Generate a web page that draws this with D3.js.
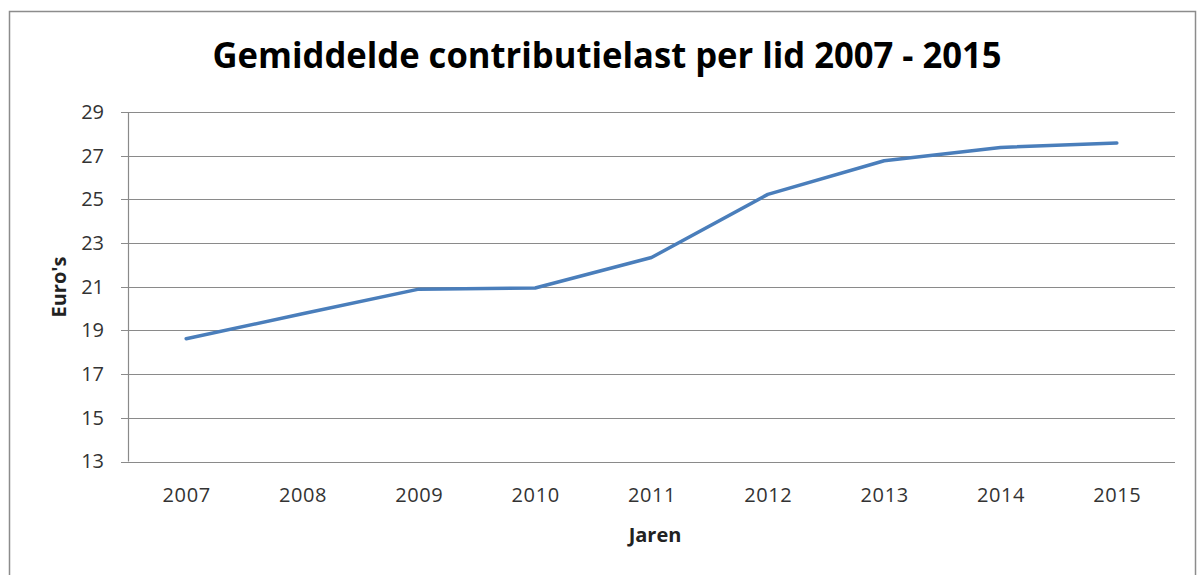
<!DOCTYPE html>
<html>
<head>
<meta charset="utf-8">
<script src="https://cdn.jsdelivr.net/npm/d3@7"></script>
<style>
  body { margin: 0; background: #fff; }
  text { font-family: "Open Sans", "DejaVu Sans", sans-serif; }
</style>
</head>
<body>
<svg id="chart"></svg>
<script>
var years = ["2007", "2008", "2009", "2010", "2011", "2012", "2013", "2014", "2015"];
var amounts = [18.62, 19.76, 20.89, 20.94, 22.34, 25.23, 26.77, 27.38, 27.58];
var yTicks = [13, 15, 17, 19, 21, 23, 25, 27, 29];

var viewWidth = 1197, viewHeight = 575;
var margin = { top: 112, right: 22, bottom: 113, left: 128 };
var width = viewWidth - margin.left - margin.right;
var height = viewHeight - margin.top - margin.bottom - 0.5;

var svg = d3.select("#chart")
    .attr("width", viewWidth)
    .attr("height", viewHeight);

// outer frame
svg.append("rect")
    .attr("x", 9.5).attr("y", 11.5)
    .attr("width", 1186).attr("height", 580)
    .attr("fill", "#fff")
    .attr("stroke", "#8c8c8c")
    .attr("stroke-width", 1.5);

svg.append("text")
    .attr("x", 607)
    .attr("y", 68)
    .attr("text-anchor", "middle")
    .attr("textLength", 789)
    .attr("lengthAdjust", "spacingAndGlyphs")
    .style("font-size", "35px")
    .style("font-weight", "bold")
    .style("fill", "#000")
    .text("Gemiddelde contributielast per lid 2007 - 2015");

var chart = svg.append("g")
    .attr("transform", "translate(" + margin.left + "," + margin.top + ")");

var x = d3.scalePoint()
    .domain(years)
    .range([0, width])
    .padding(0.5);

var y = d3.scaleLinear()
    .domain([13, 29])
    .range([height, 0]);

// gridlines
chart.append("g")
    .selectAll("line")
    .data(yTicks)
    .enter().append("line")
    .attr("x1", -7)
    .attr("x2", width)
    .attr("y1", function (d) { return Math.round(y(d)) + 0.5; })
    .attr("y2", function (d) { return Math.round(y(d)) + 0.5; })
    .attr("stroke", "#8a8a8a")
    .attr("stroke-width", 1.2);

// y axis line
chart.append("line")
    .attr("x1", 0.5).attr("x2", 0.5)
    .attr("y1", 0).attr("y2", height)
    .attr("stroke", "#8a8a8a")
    .attr("stroke-width", 1.2);

var yAxis = d3.axisLeft(y).tickValues(yTicks).tickSize(0).tickPadding(24);
chart.append("g")
    .call(yAxis)
    .call(function (g) { g.select(".domain").remove(); })
    .selectAll("text")
    .style("font-size", "20px")
    .style("fill", "#333");

var xAxis = d3.axisBottom(x).tickSize(0).tickPadding(26);
chart.append("g")
    .attr("transform", "translate(0," + height + ")")
    .call(xAxis)
    .call(function (g) { g.select(".domain").remove(); })
    .selectAll("text")
    .style("font-size", "20px")
    .style("letter-spacing", "0.6px")
    .style("fill", "#333");

// the line
var line = d3.line()
    .x(function (d, i) { return x(years[i]); })
    .y(function (d) { return y(d); });

chart.append("path")
    .datum(amounts)
    .attr("d", line)
    .attr("fill", "none")
    .attr("stroke", "#4a7ebb")
    .attr("stroke-width", 3.5)
    .attr("stroke-linejoin", "round")
    .attr("stroke-linecap", "round");

// axis titles
svg.append("text")
    .attr("x", 655)
    .attr("y", 542)
    .attr("text-anchor", "middle")
    .style("font-size", "20px")
    .style("font-weight", "bold")
    .style("fill", "#222")
    .text("Jaren");

svg.append("text")
    .attr("transform", "translate(66,287) rotate(-90)")
    .attr("text-anchor", "middle")
    .style("font-size", "20px")
    .style("font-weight", "bold")
    .style("fill", "#222")
    .text("Euro's");
</script>
</body>
</html>
